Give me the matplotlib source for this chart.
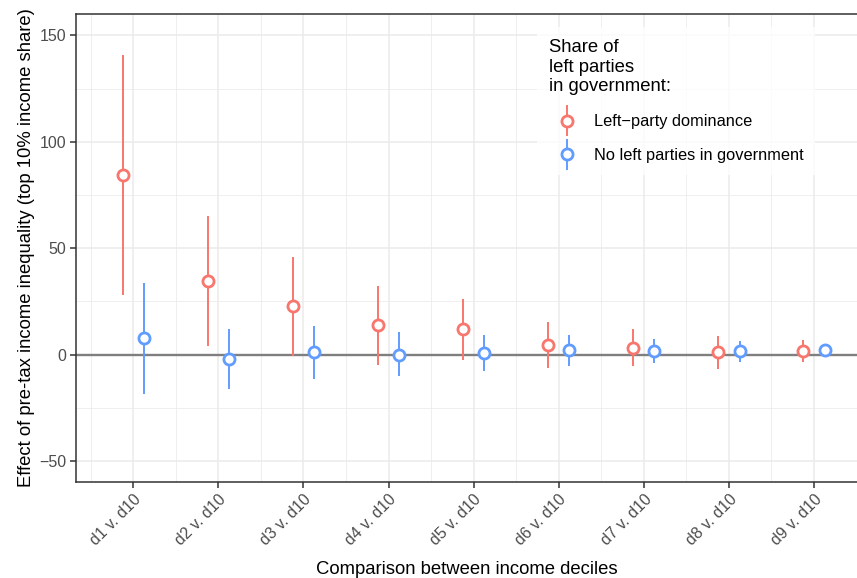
import numpy as np
import matplotlib
matplotlib.use("Agg")
import matplotlib.pyplot as plt
from matplotlib.container import ErrorbarContainer
from matplotlib.legend_handler import HandlerErrorbar

plt.rcParams["font.family"] = ["Liberation Sans", "DejaVu Sans"]

comparisons = ["d1 v. d10", "d2 v. d10", "d3 v. d10", "d4 v. d10", "d5 v. d10",
               "d6 v. d10", "d7 v. d10", "d8 v. d10", "d9 v. d10"]

# left-party dominance: estimate, lower and upper bound
left_est = [84.6, 34.8, 23.0, 14.1, 11.8, 4.7, 3.1, 1.1, 1.7]
left_lo = [28.2, 4.0, -0.5, -4.7, -2.4, -6.3, -5.5, -6.7, -3.6]
left_hi = [141.0, 65.0, 46.0, 32.4, 26.2, 15.5, 11.8, 8.6, 7.0]

# no left parties in government
none_est = [7.8, -2.0, 1.3, 0.0, 0.8, 2.0, 1.6, 1.6, 2.0]
none_lo = [-18.5, -16.1, -11.3, -10.2, -7.8, -5.2, -3.9, -3.6, -1.1]
none_hi = [33.7, 12.1, 13.6, 10.5, 9.4, 9.4, 7.1, 6.3, 5.2]

red = "#F8766D"
blue = "#619CFF"
grid_col = "#EBEBEB"
txt_col = "#4D4D4D"

W, H = 857, 578
fig = plt.figure(figsize=(W / 100, H / 100), dpi=100)
ax = fig.add_axes([76 / W, (H - 482) / H, (W - 76) / W, (482 - 14) / H])

x = np.arange(1, len(comparisons) + 1)
dodge = 0.125

ax.axhline(0, color="#7F7F7F", lw=1.7, zorder=1)

series = [
    ("Left\u2212party dominance", left_est, left_lo, left_hi, red, -dodge),
    ("No left parties in government", none_est, none_lo, none_hi, blue, dodge),
]
handles = []
for label, est, lo, hi, col, off in series:
    est = np.array(est)
    yerr = [est - np.array(lo), np.array(hi) - est]
    h = ax.errorbar(x + off, est, yerr=yerr, fmt="o", color=col, ecolor=col,
                    elinewidth=1.4, capsize=0, ms=8, mfc="white", mec=col,
                    mew=2.0, label=label, zorder=3)
    handles.append(h)

ax.set_xlim(0.327, 9.505)
ax.set_ylim(-59.9, 160.1)
ax.set_xticks(x)
ax.set_xticks(np.arange(0.5, 10, 1), minor=True)
ax.set_yticks([-50, 0, 50, 100, 150])
ax.set_yticks([-25, 25, 75, 125], minor=True)
ax.set_yticklabels(["\u221250", "0", "50", "100", "150"])
ax.set_xticklabels(comparisons, rotation=45, ha="right", va="top",
                   rotation_mode="anchor")

ax.grid(which="major", color=grid_col, lw=1.1, zorder=0)
ax.grid(which="minor", color=grid_col, lw=0.55, zorder=0)
ax.set_axisbelow(True)

for side in ["top", "left", "bottom"]:
    ax.spines[side].set_color("#333333")
    ax.spines[side].set_linewidth(1.1)
ax.spines["right"].set_visible(False)

ax.tick_params(which="major", length=4, width=1.1, color="#333333",
               labelcolor=txt_col, labelsize=11.5, pad=3)
ax.tick_params(which="minor", length=0)

ax.set_xlabel("Comparison between income deciles", fontsize=13.3, color="black",
              labelpad=9)
ax.set_ylabel("Effect of pre-tax income inequality (top 10% income share)",
              fontsize=13.3, color="black", labelpad=3)

leg = ax.legend(handles=handles, title="Share of\nleft parties\nin government:",
                loc="upper left", bbox_to_anchor=(537 / W, 1 - 27 / H),
                bbox_transform=fig.transFigure, frameon=True, fancybox=False,
                fontsize=11.8, title_fontsize=13.3, alignment="left",
                handlelength=2.1, handletextpad=0.6, labelspacing=1.15,
                borderpad=0.75, borderaxespad=0,
                handler_map={ErrorbarContainer: HandlerErrorbar(yerr_size=0.95)})
leg.get_frame().set_facecolor("white")
leg.get_frame().set_edgecolor("white")
leg.get_frame().set_linewidth(0)

fig.savefig("out.png", dpi=100)
